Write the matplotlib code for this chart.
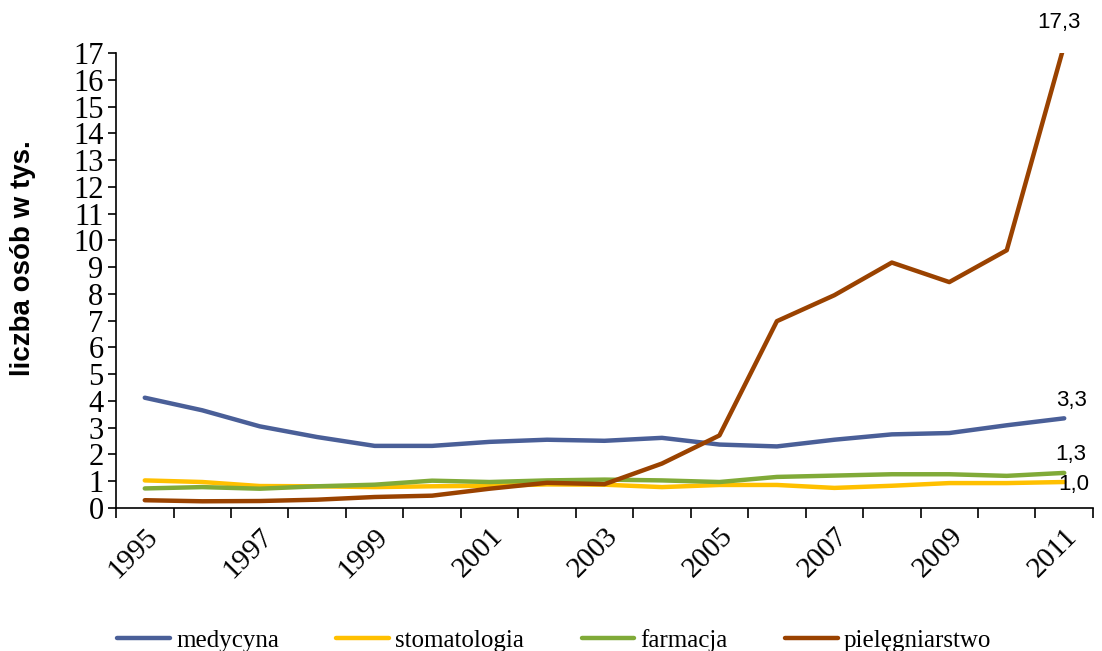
import matplotlib
matplotlib.use("Agg")
import matplotlib.pyplot as plt
from matplotlib.ticker import FixedLocator
import numpy as np

years = [str(y) for y in range(1995, 2012)]

medycyna = [4.12, 3.65, 3.05, 2.65, 2.32, 2.32, 2.47, 2.55, 2.51, 2.62, 2.37, 2.3, 2.55, 2.75, 2.8, 3.09, 3.35]
stomatologia = [1.03, 0.97, 0.82, 0.81, 0.78, 0.81, 0.83, 0.88, 0.87, 0.78, 0.86, 0.86, 0.75, 0.83, 0.93, 0.93, 0.97]
farmacja = [0.73, 0.78, 0.72, 0.81, 0.87, 1.02, 0.97, 1.03, 1.06, 1.03, 0.97, 1.16, 1.21, 1.26, 1.26, 1.2, 1.31]
pielegniarstwo = [0.29, 0.25, 0.26, 0.31, 0.41, 0.46, 0.72, 0.94, 0.89, 1.66, 2.71, 6.98, 7.95, 9.17, 8.44, 9.63, 17.3]

series = [
    ("medycyna", medycyna, "#4A5F98"),
    ("stomatologia", stomatologia, "#FFC000"),
    ("farmacja", farmacja, "#80AA38"),
    ("pielęgniarstwo", pielegniarstwo, "#9A4200"),
]

# end labels: (series index, text, offset in points)
end_labels = [(0, "3,3", (5, 13)), (2, "1,3", (5, 13)), (1, "1,0", (7, -2)), (3, "17,3", (-4, 22))]

serif = "Liberation Serif"
sans = "Liberation Sans"

fig = plt.figure(figsize=(11.02, 6.51), dpi=100)
ax = fig.add_axes([0.1053, 0.2197, 0.8865, 0.6989])

x = np.arange(len(years))
for name, vals, col in series:
    ax.plot(x, vals, color=col, linewidth=3.2, label=name, solid_capstyle="round",
            solid_joinstyle="round")

for idx, txt, off in end_labels:
    ax.annotate(txt, (x[-1], min(series[idx][1][-1], 17)), xytext=off,
                textcoords="offset points", ha="center", va="center",
                fontsize=16, family=sans, annotation_clip=False)

ax.set_xlim(-0.5, len(years) - 0.5)
ax.set_ylim(0, 17)
ax.set_yticks(range(0, 18))
ax.set_yticklabels([str(v) for v in range(0, 18)], fontsize=22, family=serif)

ax.xaxis.set_major_locator(FixedLocator(x[::2]))
ax.set_xticklabels(years[::2], fontsize=21, family=serif, rotation=45,
                   ha="right", rotation_mode="anchor")
ax.xaxis.set_minor_locator(FixedLocator(np.arange(-0.5, len(years), 1)))
ax.tick_params(axis="x", which="major", length=0, pad=11)
ax.tick_params(axis="x", which="minor", length=7, width=1.2, direction="out")
ax.tick_params(axis="y", length=6, width=1.2, direction="out", pad=3)

for s in ["top", "right"]:
    ax.spines[s].set_visible(False)
for s in ["left", "bottom"]:
    ax.spines[s].set_linewidth(1.2)

ax.set_ylabel("liczba osób w tys.", fontsize=20, family=sans, fontweight="bold")
ax.yaxis.set_label_coords(-0.082, 0.55)

fig.legend(loc="center", bbox_to_anchor=(0.503, 0.016), ncol=4, frameon=False,
           prop={"family": serif, "size": 18}, handlelength=2.1, handletextpad=0.25,
           columnspacing=2.3)

fig.savefig("out.png", dpi=100)
